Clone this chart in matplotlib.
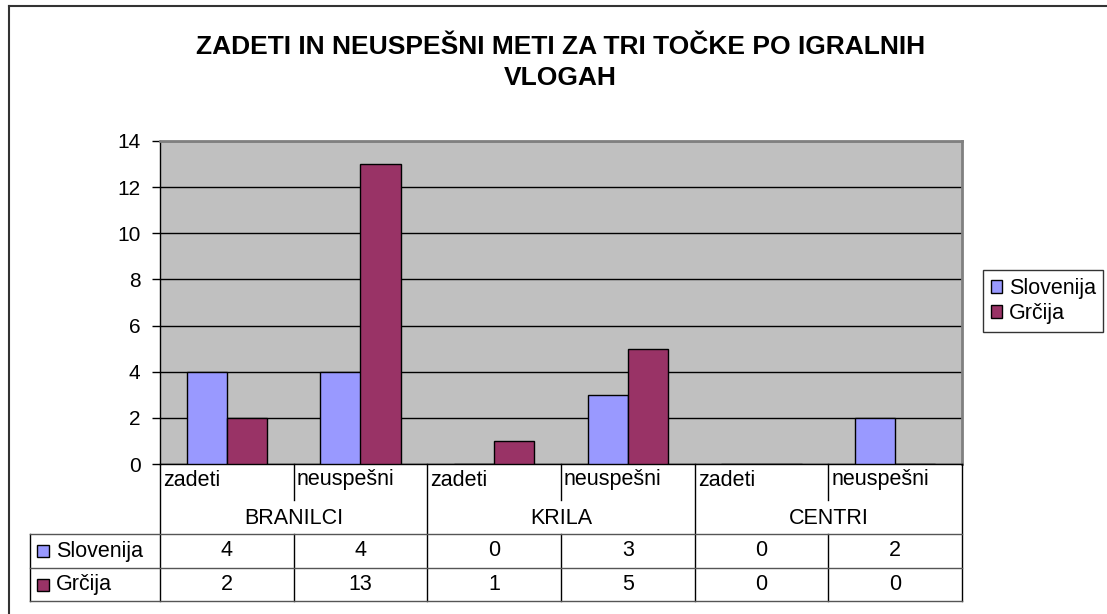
import matplotlib.pyplot as plt
from matplotlib.lines import Line2D
from matplotlib.patches import Rectangle

plt.rcParams['font.family'] = ['Liberation Sans', 'DejaVu Sans']

groups = ['BRANILCI', 'KRILA', 'CENTRI']
subcats = ['zadeti', 'neuspešni'] * 3
series = ['Slovenija', 'Grčija']
slovenija = [4, 4, 0, 3, 0, 2]
grcija = [2, 13, 1, 5, 0, 0]
colors = ['#9999FF', '#993366']
title = 'ZADETI IN NEUSPEŠNI METI ZA TRI TOČKE PO IGRALNIH\nVLOGAH'

W, H = 1107, 614
fig = plt.figure(figsize=(W / 100, H / 100), dpi=100)
FS = 15.5


def fx(x):
    return x / W


def fy(y):
    return 1 - y / H


def hline(x0, x1, y, color='black', lw=1.0):
    fig.add_artist(Line2D([fx(x0), fx(x1)], [fy(y), fy(y)], color=color, lw=lw))


def vline(x, y0, y1, color='black', lw=1.0):
    fig.add_artist(Line2D([fx(x), fx(x)], [fy(y0), fy(y1)], color=color, lw=lw))


# plot area in pixels
L, R, T, B = 160, 962, 141, 464
ax = fig.add_axes([fx(L), fy(B), fx(R - L), (B - T) / H])
ax.set_facecolor('#C0C0C0')

n = len(subcats)
xs = list(range(n))
bw = 0.3
ax.bar([x - bw / 2 for x in xs], slovenija, bw, color=colors[0], edgecolor='black', lw=1, label=series[0], zorder=3)
ax.bar([x + bw / 2 for x in xs], grcija, bw, color=colors[1], edgecolor='black', lw=1, label=series[1], zorder=3)

ax.set_xlim(-0.5, n - 0.5)
ax.set_ylim(0, 14)
ax.set_yticks(range(0, 15, 2))
ax.yaxis.grid(True, color='black', lw=1)
ax.set_axisbelow(True)
ax.set_xticks([])
ax.tick_params(axis='y', direction='out', length=6, width=1, pad=8, labelsize=15)
for s in ['top', 'right']:
    ax.spines[s].set_color('#808080')
    ax.spines[s].set_linewidth(2)
for s in ['left', 'bottom']:
    ax.spines[s].set_color('black')
    ax.spines[s].set_linewidth(1)

leg = ax.legend(loc='center left', bbox_to_anchor=(fx(983), fy(301)), bbox_transform=fig.transFigure,
                fontsize=15.5, frameon=True, fancybox=False, edgecolor='black', borderpad=0.35,
                handlelength=0.55, handleheight=0.55, handletextpad=0.3, labelspacing=0.2,
                borderaxespad=0)
leg.get_frame().set_linewidth(1)

fig.suptitle(title, x=0.506, y=fy(35), va='top', fontsize=19, fontweight='bold', linespacing=1.38)

# data table
colw = (R - L) / n
rows_top, row_mid, row_bot = 534, 568, 601
for i in range(n + 1):
    x = L + i * colw
    if i % 2 == 0:
        vline(x, B, row_bot)
    else:
        vline(x, B, 500)
        vline(x, rows_top, row_bot)
vline(30, rows_top, row_bot)
hline(30, R, rows_top, color='#555555')
hline(30, R, row_mid, color='#555555')
hline(30, R, row_bot, color='#555555')

for i, lab in enumerate(subcats):
    fig.text(fx(L + i * colw + 3), fy(480), lab, ha='left', va='center', fontsize=FS)
for g, lab in enumerate(groups):
    fig.text(fx(L + (2 * g + 1) * colw), fy(519), lab, ha='center', va='center', fontsize=FS)

for r, (name, vals) in enumerate(zip(series, [slovenija, grcija])):
    yc = (rows_top + row_mid) / 2 if r == 0 else (row_mid + row_bot) / 2
    fig.add_artist(Rectangle((fx(37), fy(yc + 6)), fx(12), 12 / H, facecolor=colors[r], edgecolor='black', lw=1))
    fig.text(fx(56), fy(yc), name, ha='left', va='center', fontsize=FS)
    for i, v in enumerate(vals):
        fig.text(fx(L + (i + 0.5) * colw), fy(yc), str(v), ha='center', va='center', fontsize=FS)

# outer chart border
hline(9, W, 6, color='#333333', lw=1.5)
vline(9, 6, H, color='#333333', lw=1.5)

fig.savefig('out.png', dpi=100)
